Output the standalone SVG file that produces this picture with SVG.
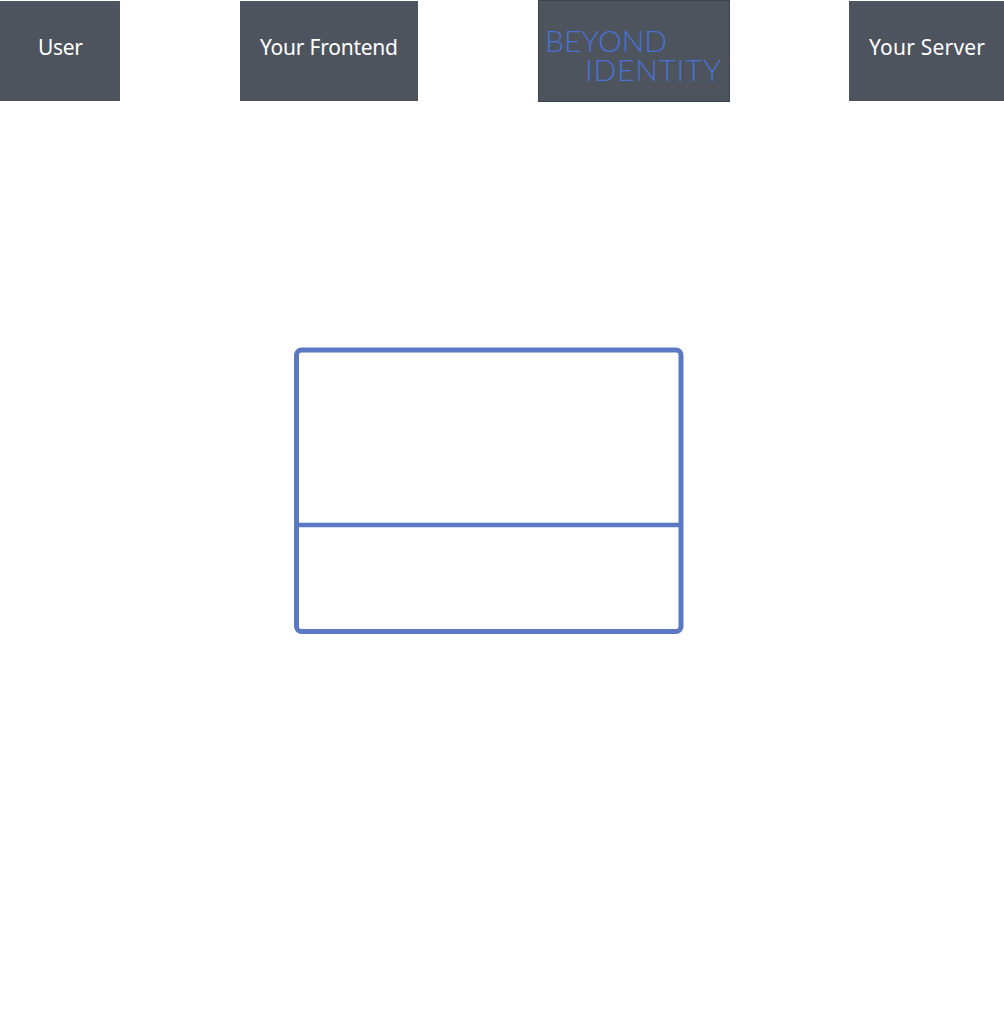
<svg xmlns="http://www.w3.org/2000/svg" width="1004" height="1020" viewBox="0 0 1004 1020">
<style>
.n{fill:#4d545e}
.l{font-family:"Noto Sans","Open Sans",sans-serif;font-size:21px;fill:#fff}
.logo{font-family:"Lato","Noto Sans",sans-serif;font-weight:300;font-size:30px;fill:#4a72d6}
.s{fill:none;stroke:#5b79c2}
</style>
<rect width="1004" height="1020" fill="#fff"/>
<g id="node-user"><rect class="n" x="0" y="1" width="120" height="100"/><text class="l" x="38" y="55" textLength="45" lengthAdjust="spacing">User</text></g>
<g id="node-frontend"><rect class="n" x="240" y="1" width="178" height="100"/><text class="l" x="260" y="55" textLength="138" lengthAdjust="spacing">Your Frontend</text></g>
<g id="node-beyond-identity"><rect class="n" x="538.5" y="0.5" width="191" height="101" stroke="#3c434c"/>
<text class="logo" x="545" y="52" textLength="122" lengthAdjust="spacing">BEYOND</text>
<text class="logo" x="585" y="81" textLength="136" lengthAdjust="spacing">IDENTITY</text></g>
<g id="node-server"><rect class="n" x="849" y="1" width="155" height="100"/><text class="l" x="869" y="55" textLength="116" lengthAdjust="spacing">Your Server</text></g>
<g id="frame"><rect class="s" x="296.500" y="350" width="384.500" height="281.500" rx="5" stroke-width="5"/><path class="s" d="M296.500 525H681" stroke-width="4.500"/></g>
</svg>
